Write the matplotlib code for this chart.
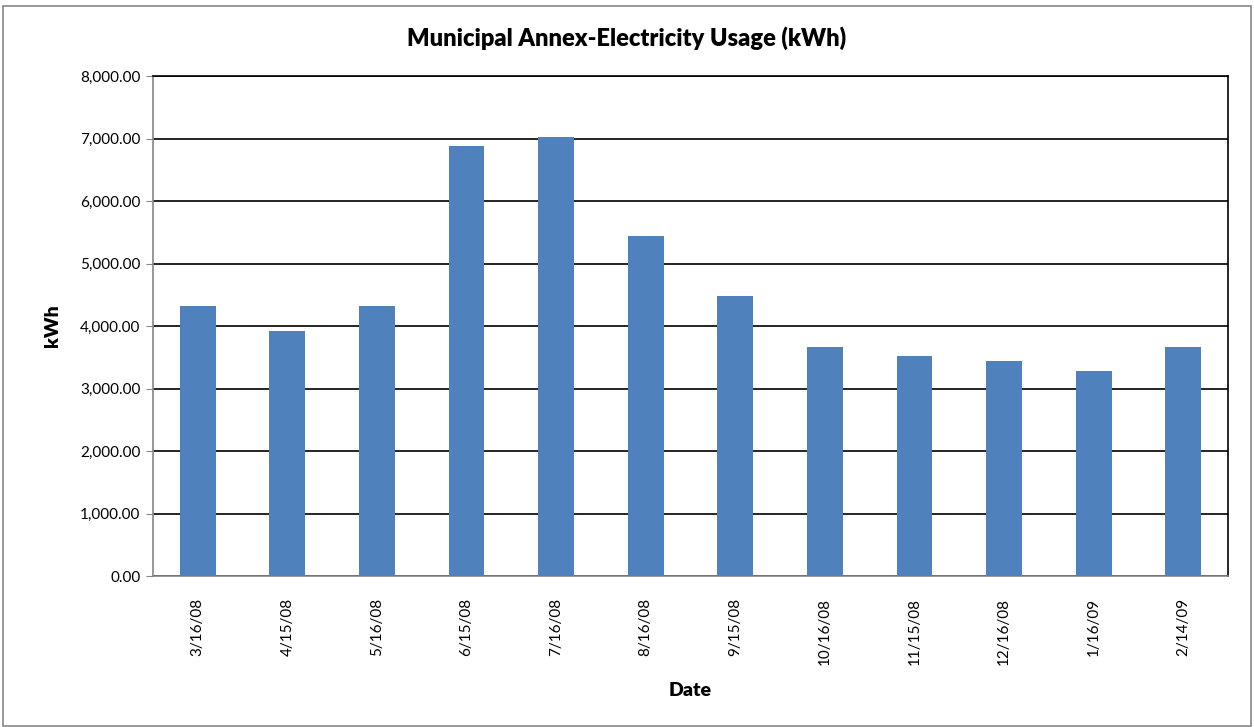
import matplotlib.pyplot as plt
from matplotlib.patches import Rectangle
from matplotlib.ticker import FuncFormatter, MultipleLocator

plt.rcParams['font.family'] = ['Lato', 'DejaVu Sans']

# monthly meter reads
dates = ["3/16/08", "4/15/08", "5/16/08", "6/15/08", "7/16/08", "8/16/08",
         "9/15/08", "10/16/08", "11/15/08", "12/16/08", "1/16/09", "2/14/09"]
kwh = [4322, 3925, 4322, 6873, 7030, 5440, 4476, 3666, 3516, 3440, 3284, 3666]

fig = plt.figure(figsize=(12.54, 7.27), dpi=100)
ax = fig.add_axes([153 / 1254, 1 - 576 / 727, 1075 / 1254, 500 / 727])

x = range(len(dates))
ax.bar(x, kwh, width=0.4, color="#4f81bd", zorder=3)

ax.set_xlim(-0.5, len(dates) - 0.5)
ax.set_ylim(0, 8000)
ax.yaxis.set_major_locator(MultipleLocator(1000))
ax.yaxis.set_major_formatter(FuncFormatter(lambda v, p: f"{v:,.2f}"))
ax.grid(axis="y", color="black", linewidth=1.2, zorder=1)

ax.set_xticks(list(x))
ax.set_xticklabels(dates, rotation=90, fontsize=11)
ax.tick_params(axis="x", length=0, pad=16)
ax.tick_params(axis="y", length=5, color="#868686", labelsize=11, pad=4)

for side in ["left", "bottom"]:
    ax.spines[side].set_color("#868686")
    ax.spines[side].set_linewidth(1.2)
for side in ["top", "right"]:
    ax.spines[side].set_color("black")
    ax.spines[side].set_linewidth(1.2)

# title is centred on the whole chart, not the plot area
fig.text(0.5, 1 - 38 / 727, "Municipal Annex-Electricity Usage (kWh)",
         fontsize=17, fontweight="heavy", ha="center", va="center")
ax.set_ylabel("kWh", fontsize=14, fontweight="heavy", labelpad=14)
ax.set_xlabel("Date", fontsize=14, fontweight="heavy", labelpad=12)

# chart frame
fig.patches.append(Rectangle((3 / 1254, 0.002), 1 - 6 / 1254, 1 - 7 / 727,
                             transform=fig.transFigure, fill=False,
                             edgecolor="#868686", linewidth=1.2))

fig.savefig("out.png", dpi=100)
